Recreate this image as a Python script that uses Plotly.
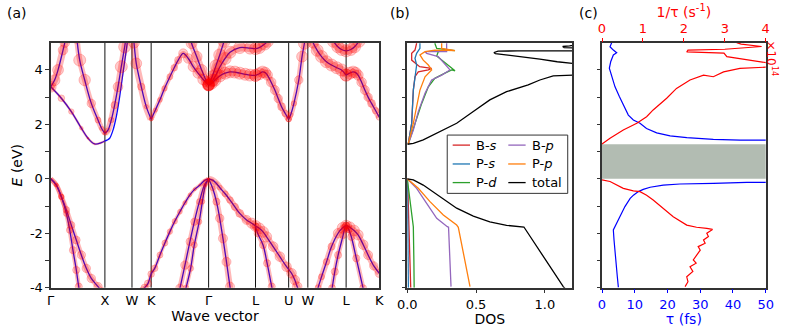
import plotly.graph_objects as go

FONT = "DejaVu Sans"
AXC = "#333333"

# high-symmetry path (cumulative |k|, 2pi/a)
KPTS = [0.0, 1.0, 1.5, 1.854, 2.915, 3.781, 4.393, 4.747, 5.454, 6.066]
KLABELS = ["Γ", "X", "W", "K", "Γ", "L", "U", "W", "L", "K"]

# ---- valence bands: k, E (eV), projected weight ----
V1_K = [0, 0.103, 0.196, 0.288, 0.38, 0.472, 0.565, 0.657, 0.749, 0.873, 0.95]
V1_E = [0, -0.23, -0.66, -1.14, -1.70, -2.25, -2.80, -3.29, -3.66, -3.96, -4.15]
V1_W = [0.1, 0.3, 0.45, 0.55, 0.6, 0.65, 0.7, 0.7, 0.7, 0.7, 0.7]

V2_K = [0, 0.103, 0.196, 0.288, 0.35, 0.41, 0.472, 0.517, 0.55]
V2_E = [0, -0.23, -0.66, -1.27, -1.88, -2.62, -3.35, -3.96, -4.3]
V2_W = [0.1, 0.3, 0.45, 0.5, 0.55, 0.6, 0.6, 0.6, 0.6]

V3_K = [1.70, 1.734, 1.795, 1.854, 1.919, 2.016, 2.108, 2.20, 2.29, 2.385, 2.478, 2.57, 2.66, 2.755, 2.838, 2.915]
V3_E = [-4.1, -4.0, -3.85, -3.50, -3.29, -2.80, -2.36, -1.94, -1.56, -1.21, -0.88, -0.59, -0.38, -0.23, -0.06, 0]
V3_W = [0.6, 0.6, 0.6, 0.55, 0.55, 0.5, 0.5, 0.45, 0.45, 0.4, 0.35, 0.3, 0.25, 0.2, 0.15, 0.1]

V4_K = [2.915, 2.838, 2.745, 2.651, 2.57, 2.478, 2.385, 2.35]
V4_E = [0, -0.23, -0.84, -1.58, -2.31, -3.17, -4.02, -4.3]
V4_W = [0.1, 0.3, 0.5, 0.6, 0.65, 0.7, 0.7, 0.7]

V5_K = [2.915, 2.857, 2.80, 2.74, 2.651, 2.583, 2.496, 2.46]
V5_E = [0, -0.23, -0.84, -1.58, -2.43, -3.29, -4.02, -4.3]
V5_W = [0.1, 0.25, 0.4, 0.45, 0.5, 0.5, 0.5, 0.5]

V6_K = [2.915, 2.99, 3.06, 3.12, 3.18, 3.245, 3.31, 3.34]
V6_E = [0, -0.35, -0.84, -1.45, -2.19, -3.05, -3.96, -4.3]
V6_W = [0.1, 0.4, 0.6, 0.7, 0.75, 0.75, 0.75, 0.75]

V7_K = [2.915, 2.99, 3.06, 3.12, 3.22, 3.31, 3.40, 3.49, 3.616, 3.71, 3.781,
        3.85, 3.92, 3.985, 4.107, 4.23, 4.354, 4.446, 4.507, 4.55, 4.6]
V7_E = [0, -0.05, -0.17, -0.32, -0.55, -0.78, -1.03, -1.27, -1.51, -1.63, -1.73,
        -1.82, -1.95, -2.13, -2.49, -2.86, -3.23, -3.47, -3.72, -3.96, -4.2]
V7_W = [0.1, 0.2, 0.3, 0.4, 0.5, 0.55, 0.6, 0.65, 0.75, 0.85, 0.9,
        0.9, 0.9, 0.85, 0.8, 0.8, 0.8, 0.8, 0.8, 0.8, 0.8]

V8_K = [3.781, 3.82, 3.92, 3.995, 4.08, 4.12]
V8_E = [-1.75, -2.0, -2.43, -3.10, -3.96, -4.3]
V8_W = [0.6, 0.6, 0.6, 0.6, 0.6, 0.6]

V9_K = [4.90, 4.937, 5.0, 5.092, 5.185, 5.306, 5.39, 5.454, 5.52, 5.60, 5.675, 5.77, 5.86, 5.965, 6.066]
V9_E = [-4.3, -4.0, -3.60, -3.05, -2.49, -2.0, -1.80, -1.72, -1.78, -1.90, -2.06, -2.42, -2.80, -3.20, -3.47]
V9_W = [0.5, 0.5, 0.5, 0.55, 0.6, 0.8, 0.9, 0.9, 0.9, 0.9, 0.85, 0.8, 0.75, 0.7, 0.7]

V10_K = [5.454, 5.43, 5.40, 5.306, 5.245, 5.195, 5.17]
V10_E = [-1.72, -1.8, -2.06, -2.80, -3.41, -4.02, -4.3]
V10_W = [0.6, 0.6, 0.6, 0.6, 0.6, 0.6, 0.6]

V11_K = [5.454, 5.50, 5.55, 5.642, 5.767, 5.80]
V11_E = [-1.72, -1.85, -2.13, -2.92, -4.02, -4.3]
V11_W = [0.6, 0.6, 0.6, 0.6, 0.6, 0.6]

# ---- conduction bands ----
C1_K = [0, 0.196, 0.38, 0.565, 0.688, 0.812, 0.934, 1.0]
C1_E = [3.38, 2.96, 2.47, 1.86, 1.49, 1.28, 1.33, 1.39]
C1_W = [0.6, 0.55, 0.45, 0.3, 0.15, 0.05, 0, 0]

C2_K = [0.48, 0.535, 0.627, 0.749, 0.873, 0.94, 1.0]
C2_E = [5.2, 4.36, 3.63, 2.77, 2.16, 1.85, 1.67]
C2_W = [1.0, 1.0, 0.95, 0.7, 0.5, 0.35, 0.3]

C3_K = [0, 0.07, 0.135, 0.227, 0.26, 0.29]
C3_E = [3.38, 3.62, 4.0, 4.73, 5.0, 5.3]
C3_W = [0.9, 0.9, 0.9, 0.8, 0.8, 0.8]

C4_K = [1.0, 1.04, 1.088, 1.15, 1.21, 1.273, 1.334, 1.395, 1.42]
C4_E = [1.39, 1.42, 1.49, 1.79, 2.28, 3.02, 3.88, 4.73, 5.1]
C4_W = [0, 0, 0, 0, 0, 0, 0, 0, 0]

C5_K = [1.0, 1.057, 1.118, 1.18, 1.242, 1.303, 1.365, 1.40]
C5_E = [1.67, 1.79, 2.16, 2.71, 3.38, 4.12, 4.85, 5.3]
C5_W = [0.3, 0.35, 0.45, 0.6, 0.8, 1.0, 1.0, 1.0]

C6A_K = [1.52, 1.537, 1.579, 1.672, 1.764, 1.854]
C6A_E = [5.3, 5.0, 4.24, 3.38, 2.65, 2.19]
C6A_W = [0.9, 0.9, 0.9, 0.6, 0.35, 0.3]

C6B_K = [1.854, 1.93, 2.016, 2.10, 2.20, 2.28, 2.354, 2.446, 2.54, 2.631, 2.72, 2.815, 2.915]
C6B_E = [2.19, 2.52, 2.90, 3.32, 3.75, 4.08, 4.36, 4.61, 4.42, 4.12, 3.88, 3.65, 3.45]
C6B_W = [0.3, 0.35, 0.4, 0.45, 0.5, 0.55, 0.6, 0.75, 0.8, 0.85, 0.85, 0.9, 0.9]

C7_K = [2.57, 2.60, 2.694, 2.786, 2.878, 2.915]
C7_E = [5.2, 4.98, 4.49, 4.0, 3.57, 3.45]
C7_W = [0.9, 0.9, 0.9, 0.9, 0.9, 0.9]

C9_K = [2.915, 2.97, 3.03, 3.12, 3.22, 3.31, 3.40, 3.49, 3.59, 3.68, 3.781]
C9_E = [3.45, 3.50, 3.62, 3.78, 3.88, 3.93, 3.92, 3.88, 3.84, 3.81, 3.80]
C9_W = [0.9, 0.95, 1, 1, 1, 1, 1, 1, 1, 1, 1]

C9B_K = [3.781, 3.85, 3.91, 3.96, 4.00, 4.07, 4.138, 4.20, 4.262, 4.33, 4.393]
C9B_E = [3.80, 3.86, 3.93, 3.90, 3.81, 3.55, 3.26, 2.95, 2.65, 2.40, 2.19]
C9B_W = [1, 1, 0.95, 0.9, 0.85, 0.8, 0.75, 0.7, 0.65, 0.55, 0.45]

C9C_K = [4.393, 4.43, 4.49, 4.58, 4.64, 4.684, 4.72]
C9C_E = [2.19, 2.35, 2.77, 3.63, 4.49, 4.98, 5.4]
C9C_W = [0.45, 0.4, 0.45, 0.7, 0.9, 1, 1]

C10_K = [4.80, 4.845, 4.92, 5.0, 5.09, 5.185, 5.28, 5.369, 5.454]
C10_E = [5.3, 5.0, 4.72, 4.49, 4.30, 4.18, 4.08, 4.0, 3.81]
C10_W = [0.9, 0.9, 1, 1, 1, 1, 1, 1, 1]

C10B_K = [5.454, 5.52, 5.583, 5.63, 5.675, 5.74, 5.80, 5.86, 5.923, 6.0, 6.066]
C10B_E = [3.81, 3.88, 3.93, 3.90, 3.81, 3.55, 3.26, 3.0, 2.77, 2.50, 2.26]
C10B_W = [1, 1, 0.95, 0.9, 0.85, 0.8, 0.75, 0.7, 0.65, 0.55, 0.5]

C11_K = [2.915, 2.99, 3.06, 3.12, 3.22, 3.31, 3.49, 3.68, 3.781, 3.85, 3.95, 4.0]
C11_E = [3.45, 3.62, 3.85, 4.10, 4.42, 4.65, 4.82, 4.80, 4.78, 4.82, 4.95, 5.05]
C11_W = [1, 1, 1, 1, 1, 1, 1, 1, 1, 1, 1, 1]

C12_K = [2.915, 2.98, 3.05, 3.12, 3.2]
C12_E = [3.45, 3.75, 4.15, 4.55, 5.05]
C12_W = [1, 1, 1, 1, 1]

C13_K = [5.22, 5.30, 5.37, 5.454, 5.54, 5.61, 5.69]
C13_E = [5.05, 4.85, 4.75, 4.70, 4.75, 4.85, 5.05]
C13_W = [1, 1, 1, 1, 1, 1, 1]

BANDS = [
    (V1_K, V1_E, V1_W), (V2_K, V2_E, V2_W), (V3_K, V3_E, V3_W), (V4_K, V4_E, V4_W),
    (V5_K, V5_E, V5_W), (V6_K, V6_E, V6_W), (V7_K, V7_E, V7_W), (V8_K, V8_E, V8_W),
    (V9_K, V9_E, V9_W), (V10_K, V10_E, V10_W), (V11_K, V11_E, V11_W),
    (C1_K, C1_E, C1_W), (C2_K, C2_E, C2_W), (C3_K, C3_E, C3_W), (C4_K, C4_E, C4_W),
    (C5_K, C5_E, C5_W), (C6A_K, C6A_E, C6A_W), (C6B_K, C6B_E, C6B_W), (C7_K, C7_E, C7_W),
    (C9_K, C9_E, C9_W), (C9B_K, C9B_E, C9B_W), (C9C_K, C9C_E, C9C_W),
    (C10_K, C10_E, C10_W), (C10B_K, C10B_E, C10B_W), (C11_K, C11_E, C11_W),
    (C12_K, C12_E, C12_W), (C13_K, C13_E, C13_W),
]

# ---- DOS (states/eV), valence part then conduction part ----
TOT_V_X = [0, 0.044, 0.116, 0.238, 0.359, 0.48, 0.60, 0.722, 0.848, 1.134, 1.16]
TOT_V_E = [0, -0.04, -0.23, -0.66, -1.08, -1.37, -1.58, -1.71, -1.77, -3.96, -4.1]
TOT_C_X = [0, 0.044, 0.116, 0.238, 0.359, 0.48, 0.60, 0.722, 0.843, 0.879, 0.964, 1.061, 1.25,
           1.25, 1.2, 1.09, 0.964, 0.79, 0.68, 0.64, 0.63, 0.66, 0.8, 1.25,
           1.25, 1.14, 1.13, 1.18, 1.25]
TOT_C_E = [1.27, 1.30, 1.43, 1.73, 2.04, 2.47, 2.90, 3.20, 3.38, 3.45, 3.63, 3.78, 3.82,
           4.22, 4.24, 4.30, 4.40, 4.52, 4.58, 4.60, 4.64, 4.69, 4.70, 4.70,
           4.80, 4.82, 4.86, 4.88, 4.95]

BS_V_X = [0, 0.005, 0.012, 0.02, 0.025]
BS_V_E = [0, -0.5, -1.75, -3.0, -4.0]
BS_C_X = [0.007, 0.032, 0.044, 0.056, 0.08, 0.153, 0.177, 0.09, 0.032, 0.032, 0.056, 0.068]
BS_C_E = [1.28, 2.04, 3.26, 3.75, 3.93, 4.0, 4.06, 4.12, 4.36, 4.61, 4.73, 4.98]

PS_V_X = [0, 0.002, 0.005, 0.008]
PS_V_E = [0, -1.0, -2.0, -4.0]
PS_C_X = [0.007, 0.032, 0.044, 0.056, 0.068, 0.056, 0.068, 0.092, 0.092]
PS_C_E = [1.28, 2.04, 3.26, 3.75, 4.18, 4.43, 4.61, 4.79, 4.98]

PD_V_X = [0, 0.02, 0.044, 0.048, 0.05]
PD_V_E = [0, -0.8, -1.76, -3.0, -4.0]
PD_C_X = [0.007, 0.056, 0.105, 0.153, 0.2, 0.274, 0.323, 0.347, 0.298, 0.214, 0.225, 0.298, 0.347, 0.214, 0.2]
PD_C_E = [1.28, 2.04, 2.77, 3.38, 3.69, 3.88, 4.0, 3.97, 4.18, 4.51, 4.67, 4.73, 4.71, 4.79, 4.98]

BP_V_X = [0, 0.068, 0.141, 0.214, 0.291, 0.30, 0.318]
BP_V_E = [0, -0.35, -0.90, -1.45, -1.76, -1.78, -3.96]
BP_C_X = [0.007, 0.044, 0.08, 0.129, 0.177, 0.25, 0.31, 0.225, 0.141, 0.129, 0.2, 0.286, 0.286]
BP_C_E = [1.28, 1.79, 2.47, 3.14, 3.63, 3.81, 4.0, 4.49, 4.61, 4.67, 4.67, 4.67, 4.98]

PP_V_X = [0, 0.08, 0.165, 0.262, 0.359, 0.371, 0.456]
PP_V_E = [0, -0.35, -0.84, -1.33, -1.70, -1.78, -3.96]
PP_C_X = [0.007, 0.044, 0.068, 0.092, 0.129, 0.165, 0.177, 0.153, 0.116, 0.092, 0.129, 0.2, 0.347, 0.25, 0.25]
PP_C_E = [1.28, 2.04, 2.65, 3.26, 3.75, 3.93, 4.0, 4.18, 4.36, 4.55, 4.67, 4.73, 4.71, 4.79, 4.98]

# ---- lifetime tau (fs) and scattering rate 1/tau (1e14 s^-1) ----
TAU_C = [2.95, 2.44, 3.46, 4.48, 3.46, 2.65, 2.24, 2.95, 3.97, 5.30, 6.52, 8.04, 9.57, 11.6,
         13.6, 16.7, 20.8, 25.9, 34.0, 42.2, 50.0, 55]
TAU_C_E = [5.0, 4.85, 4.73, 4.63, 4.55, 4.30, 4.06, 3.75, 3.38, 3.02, 2.71, 2.34, 2.16, 2.04,
           1.85, 1.69, 1.58, 1.51, 1.45, 1.42, 1.42, 1.41]
TAU_V = [55, 50, 44.2, 34, 23.8, 18.7, 14.7, 12.6, 11.1, 9.6, 8.6, 7.0, 5.5, 3.97, 3.46, 3.67,
         3.97, 4.28, 4.68, 5.0]
TAU_V_E = [-0.13, -0.13, -0.13, -0.17, -0.19, -0.23, -0.31, -0.39, -0.47, -0.60, -0.72, -1.02,
           -1.39, -1.76, -1.88, -2.25, -2.74, -3.23, -3.60, -3.99]
RATE_C = [0, 0.196, 0.52, 0.85, 1.09, 1.25, 1.58, 1.82, 2.15, 2.48, 2.72, 2.97, 3.37, 3.90, 4.3,
          4.3, 3.54, 3.05, 2.98, 2.07, 2.10, 3.0, 3.90, 3.40, 3.29]
RATE_C_E = [1.28, 1.49, 1.79, 2.04, 2.28, 2.53, 2.96, 3.32, 3.63, 3.81, 3.75, 3.93, 4.06, 4.12, 4.12,
            4.2, 4.36, 4.49, 4.62, 4.66, 4.73, 4.76, 4.86, 4.95, 5.0]
RATE_V = [0, 0.196, 0.52, 0.766, 0.929, 1.09, 1.25, 1.50, 1.74, 2.07, 2.31, 2.56, 2.70, 2.56,
          2.60, 2.48, 2.52, 2.35, 2.40, 2.23, 2.30, 2.15, 2.22, 2.07, 2.10, 2.03]
RATE_V_E = [-0.04, -0.1, -0.35, -0.44, -0.47, -0.6, -0.78, -1.09, -1.39, -1.70, -1.78, -1.82,
            -1.86, -2.0, -2.12, -2.25, -2.37, -2.49, -2.62, -2.98, -3.1, -3.23, -3.4, -3.60,
            -3.78, -3.96]
GAP = [0.0, 1.27]

DOS_SERIES = [
    ("B-<i>s</i>", "#d62728", BS_V_X, BS_V_E, BS_C_X, BS_C_E),
    ("P-<i>s</i>", "#1f77b4", PS_V_X, PS_V_E, PS_C_X, PS_C_E),
    ("P-<i>d</i>", "#2ca02c", PD_V_X, PD_V_E, PD_C_X, PD_C_E),
    ("B-<i>p</i>", "#9467bd", BP_V_X, BP_V_E, BP_C_X, BP_C_E),
    ("P-<i>p</i>", "#ff7f0e", PP_V_X, PP_V_E, PP_C_X, PP_C_E),
    ("total", "black", TOT_V_X, TOT_V_E, TOT_C_X, TOT_C_E),
]

fig = go.Figure()

# blue band lines first, then translucent fat-band weights on top
for k, e, w in BANDS:
    fig.add_trace(go.Scatter(x=k, y=e, mode="lines", xaxis="x", yaxis="y",
                             line=dict(color="#0a0aff", width=1.3, shape="spline"),
                             hoverinfo="skip", showlegend=False))
for k, e, w in BANDS:
    wmid = sorted(w)[len(w) // 2]
    if wmid >= 0.3:
        fig.add_trace(go.Scatter(x=k, y=e, mode="lines", xaxis="x", yaxis="y",
                                 line=dict(color="rgba(255,0,0,0.28)", width=8 * wmid, shape="spline"),
                                 hoverinfo="skip", showlegend=False))
    if max(w) > 0:
        fig.add_trace(go.Scatter(x=k, y=e, mode="markers", xaxis="x", yaxis="y",
                                 marker=dict(size=[12 * v for v in w], color="rgba(255,0,0,0.28)",
                                             line=dict(color="rgba(255,0,0,0.35)", width=1)),
                                 hoverinfo="skip", showlegend=False))

for name, col, vx, ve, cx, ce in DOS_SERIES:
    fig.add_trace(go.Scatter(x=vx + [None] + cx, y=ve + [None] + ce, mode="lines",
                             xaxis="x2", yaxis="y2", name=name,
                             line=dict(color=col, width=1.3), showlegend=False))

fig.add_trace(go.Scatter(x=TAU_C + [None] + TAU_V, y=TAU_C_E + [None] + TAU_V_E, mode="lines",
                         xaxis="x3", yaxis="y3", line=dict(color="blue", width=1.2), showlegend=False))
fig.add_trace(go.Scatter(x=RATE_C + [None] + RATE_V, y=RATE_C_E + [None] + RATE_V_E, mode="lines",
                         xaxis="x4", yaxis="y3", line=dict(color="red", width=1.2), showlegend=False))

# high-symmetry vertical lines
for kp in KPTS[1:-1]:
    fig.add_shape(type="line", xref="x", yref="y domain", x0=kp, x1=kp, y0=0, y1=1,
                  line=dict(color="#111111", width=1), layer="below")

# band-gap shading in panel (c)
fig.add_shape(type="rect", xref="x3 domain", yref="y3", x0=0, x1=1, y0=GAP[0], y1=GAP[1],
              fillcolor="rgb(178,188,178)", line=dict(width=0), layer="below")

# legend box for DOS panel
fig.add_shape(type="rect", xref="x2 domain", yref="y2 domain", x0=0.242, x1=0.972, y0=0.385, y1=0.623,
              fillcolor="white", line=dict(color="#333333", width=1), layer="above")
rows = [0.582, 0.505, 0.429]
for i, (name, col, *_rest) in enumerate(DOS_SERIES):
    col_i, row_i = (0, i) if i < 3 else (1, i - 3)
    lx0 = 0.275 if col_i == 0 else 0.612
    fig.add_shape(type="line", xref="x2 domain", yref="y2 domain", x0=lx0, x1=lx0 + 0.105,
                  y0=rows[row_i], y1=rows[row_i], line=dict(color=col, width=1.3), layer="above")
    fig.add_annotation(text=name, xref="x2 domain", yref="y2 domain", x=lx0 + 0.13, y=rows[row_i],
                       xanchor="left", yanchor="middle", showarrow=False,
                       font=dict(family=FONT, size=13, color="black"))

axis_common = dict(showline=True, linecolor=AXC, linewidth=1.5, mirror=True, showgrid=False,
                   zeroline=False, automargin=False)
ytick_vals = [-4, -3, -2, -1, 0, 1, 2, 3, 4]
ytick_minor = dict(tickvals=[-3, -1, 1, 3], ticks="outside", ticklen=3.5, tickcolor=AXC)

fig.update_layout(
    width=789, height=327,
    margin=dict(l=0, r=0, t=0, b=0, autoexpand=False),
    paper_bgcolor="white", plot_bgcolor="white",
    font=dict(family=FONT, size=13, color="black"),
    showlegend=False,
    xaxis=dict(domain=[0.0643, 0.4807], range=[0, KPTS[-1]], anchor="y",
               tickvals=KPTS, ticktext=KLABELS, ticks="", tickfont=dict(size=13),
               title=dict(text="Wave vector", font=dict(size=14), standoff=0), **axis_common),
    yaxis=dict(domain=[0.1202, 0.8694], range=[-4, 5], anchor="x",
               tickvals=[-4, -2, 0, 2, 4], ticktext=["-4", "-2", "0", "2", "4"],
               ticks="outside", ticklen=3.5, tickcolor=AXC, tickfont=dict(size=13),
               minor=ytick_minor,
               title=dict(text="<i>E</i> (eV)", font=dict(size=14), standoff=4), **axis_common),
    xaxis2=dict(domain=[0.5162, 0.7254], range=[0, 1.2], anchor="y2",
                tickvals=[0, 0.5, 1.0], ticktext=["0.0", "0.5", "1.0"], ticks="outside",
                ticklen=3.5, tickcolor=AXC, tickfont=dict(size=13),
                title=dict(text="DOS", font=dict(size=14), standoff=0), **axis_common),
    yaxis2=dict(domain=[0.1202, 0.8694], range=[-4, 5], anchor="x2", tickvals=ytick_vals,
                showticklabels=False, ticks="outside", ticklen=3.5, tickcolor=AXC, **axis_common),
    xaxis3=dict(domain=[0.763, 0.9705], range=[0, 50], anchor="y3",
                tickvals=[0, 10, 20, 30, 40, 50], ticks="outside", ticklen=3.5, tickcolor="blue",
                tickfont=dict(size=13, color="blue"),
                title=dict(text="τ (fs)", font=dict(size=14, color="blue"), standoff=0), **axis_common),
    xaxis4=dict(overlaying="x3", side="top", range=[0, 4], anchor="y3",
                tickvals=[0, 1, 2, 3, 4], ticks="outside", ticklen=3.5, tickcolor="red",
                tickfont=dict(size=13, color="red"), showline=False, showgrid=False, zeroline=False,
                automargin=False,
                title=dict(text="1/τ (s<sup>-1</sup>)", font=dict(size=14, color="red"), standoff=0)),
    yaxis3=dict(domain=[0.1202, 0.8694], range=[-4, 5], anchor="x3", tickvals=ytick_vals,
                showticklabels=False, ticks="outside", ticklen=3.5, tickcolor=AXC, **axis_common),
)

for txt, xp in [("(a)", 0.0215), ("(b)", 0.507), ("(c)", 0.7465)]:
    fig.add_annotation(text=txt, xref="paper", yref="paper", x=xp, y=0.96, showarrow=False,
                       xanchor="center", yanchor="middle", font=dict(family=FONT, size=14))
fig.add_annotation(text="×10<sup>14</sup>", xref="paper", yref="paper", x=0.979, y=0.82,
                   textangle=90, showarrow=False, xanchor="center", yanchor="middle",
                   font=dict(family=FONT, size=12, color="red"))

fig.write_html("out.html", config={"displayModeBar": False},
               post_script="document.body.style.margin='0';document.body.style.overflow='hidden';")
